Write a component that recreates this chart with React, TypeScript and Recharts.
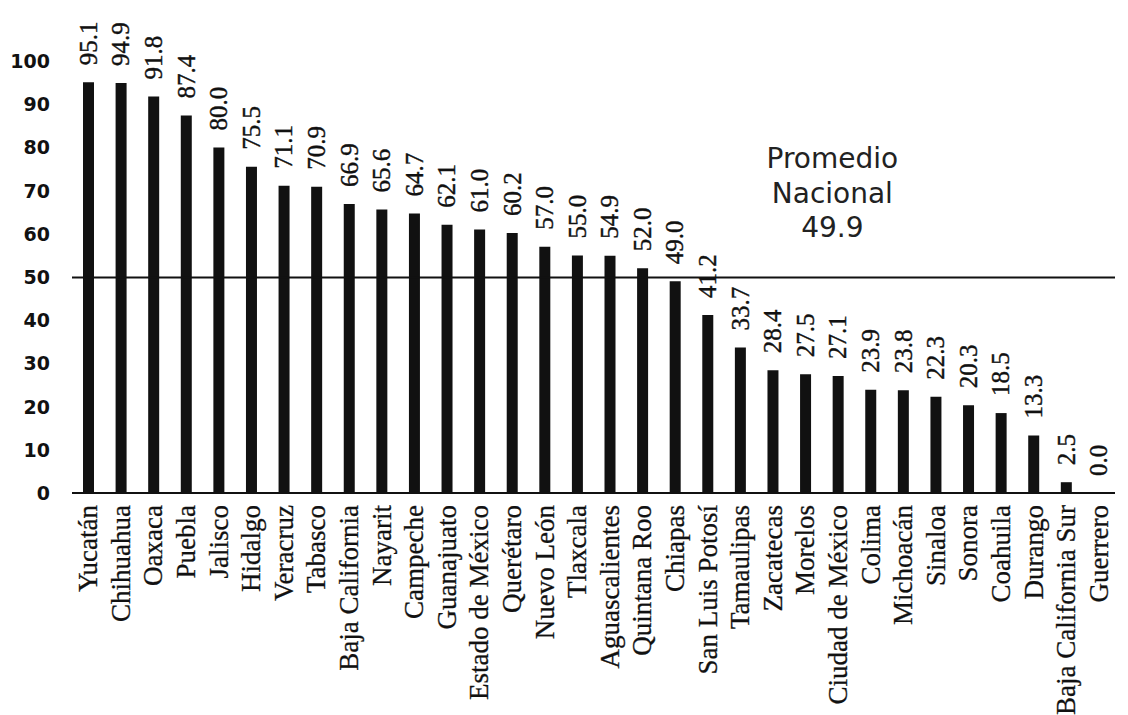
import React from 'react';
import { ComposedChart, Bar, Line, XAxis, YAxis, ReferenceLine } from 'recharts';

const states: string[] = [
  'Yucatán', 'Chihuahua', 'Oaxaca', 'Puebla', 'Jalisco', 'Hidalgo', 'Veracruz', 'Tabasco',
  'Baja California', 'Nayarit', 'Campeche', 'Guanajuato', 'Estado de México', 'Querétaro',
  'Nuevo León', 'Tlaxcala', 'Aguascalientes', 'Quintana Roo', 'Chiapas', 'San Luis Potosí',
  'Tamaulipas', 'Zacatecas', 'Morelos', 'Ciudad de México', 'Colima', 'Michoacán', 'Sinaloa',
  'Sonora', 'Coahuila', 'Durango', 'Baja California Sur', 'Guerrero',
];

const values: number[] = [
  95.1, 94.9, 91.8, 87.4, 80.0, 75.5, 71.1, 70.9,
  66.9, 65.6, 64.7, 62.1, 61.0, 60.2,
  57.0, 55.0, 54.9, 52.0, 49.0, 41.2,
  33.7, 28.4, 27.5, 27.1, 23.9, 23.8, 22.3,
  20.3, 18.5, 13.3, 2.5, 0.0,
];

const yTicks: number[] = [0, 10, 20, 30, 40, 50, 60, 70, 80, 90, 100];
const nationalAverage = 49.9;
const averageLines: string[] = ['Promedio', 'Nacional', '49.9'];

const data = states.map((state, i) => ({ state, value: values[i] }));

const SERIF = "'Liberation Serif', 'Times New Roman', Times, serif";
const SANS = "'DejaVu Sans', Verdana, sans-serif";

const CategoryTick = (props: any) => {
  const { x, y, payload } = props;
  return (
    <text
      x={x}
      y={y}
      transform={`rotate(-90, ${x}, ${y})`}
      textAnchor="end"
      dominantBaseline="central"
      fontFamily={SERIF}
      fontSize={27}
      fill="#111"
      stroke="#111"
      strokeWidth={0.3}
    >
      {payload.value}
    </text>
  );
};

const ValueTick = (props: any) => {
  const { x, y, payload } = props;
  return (
    <text
      x={x}
      y={y}
      textAnchor="end"
      dominantBaseline="central"
      fontFamily={SANS}
      fontWeight="bold"
      fontSize={19}
      fill="#111"
    >
      {payload.value}
    </text>
  );
};

const renderValueDot = (props: any) => {
  const { cx, cy, value, index } = props;
  const v = Array.isArray(value) ? value[1] : value;
  const x = Number(cx);
  const y = Number(cy) - 17;
  return (
    <text
      key={`vl-${index}`}
      x={x}
      y={y}
      transform={`rotate(-90, ${x}, ${y})`}
      textAnchor="start"
      dominantBaseline="central"
      fontFamily={SERIF}
      fontSize={25}
      fill="#111"
      stroke="#111"
      strokeWidth={0.4}
    >
      {Number(v).toFixed(1)}
    </text>
  );
};

const AverageLabel = (props: any) => {
  const { viewBox } = props;
  const cx = viewBox.x + viewBox.width * 0.729;
  const baseY = viewBox.y;
  return (
    <g>
      {averageLines.map((line, i) => (
        <text
          key={line}
          x={cx}
          y={baseY - 109 + i * 34.5}
          textAnchor="middle"
          fontFamily={SANS}
          fontSize={28}
          fill="#222"
        >
          {line}
        </text>
      ))}
    </g>
  );
};

export default function App() {
  return (
    <div style={{ width: 1120, height: 707, background: '#fff' }}>
      <ComposedChart
        width={1120}
        height={707}
        data={data}
        margin={{ top: 53, right: 13, left: 0, bottom: 0 }}
      >
        <YAxis
          type="number"
          domain={[0, 100]}
          ticks={yTicks}
          width={64}
          axisLine={false}
          tickLine={false}
          tickSize={0}
          tickMargin={22}
          tick={<ValueTick />}
          interval={0}
        />
        <XAxis
          dataKey="state"
          interval={0}
          height={222}
          axisLine={{ stroke: '#111', strokeWidth: 2 }}
          tickLine={false}
          tickSize={0}
          tickMargin={12}
          tick={<CategoryTick />}
        />
        <ReferenceLine
          y={nationalAverage}
          stroke="#111"
          strokeWidth={2}
          label={<AverageLabel />}
        />
        <Bar dataKey="value" fill="#111" barSize={11} isAnimationActive={false} />
        <Line
          dataKey="value"
          stroke="none"
          dot={renderValueDot}
          activeDot={false}
          legendType="none"
          isAnimationActive={false}
        />
      </ComposedChart>
    </div>
  );
}
